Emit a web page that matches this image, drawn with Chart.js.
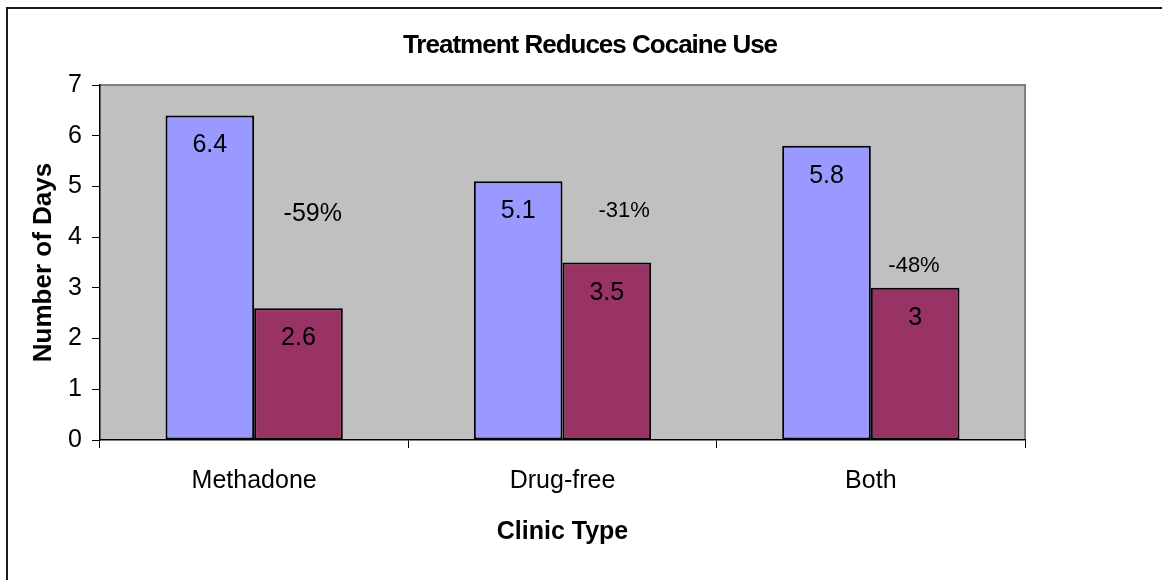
<!DOCTYPE html>
<html>
<head>
<meta charset="utf-8">
<script src="https://cdn.jsdelivr.net/npm/chart.js@4.4.1/dist/chart.umd.min.js"></script>
<style>
  html, body { margin: 0; padding: 0; background: #fff; }
  canvas { display: block; }
</style>
</head>
<body>
<canvas id="c" width="1162" height="580"></canvas>
<script>
// ---- data ----
const categories = ['Methadone', 'Drug-free', 'Both'];
const beforeValues = [6.4, 5.1, 5.8];
const afterValues = [2.6, 3.5, 3.0];
const yTicks = [0, 1, 2, 3, 4, 5, 6, 7];
const pctLabels = ['-59%', '-31%', '-48%'];
// annotation anchors in data units (category index, value)
const pctAnchorX = [0.19, 1.20, 2.14];
const pctAnchorY = [4.32, 4.40, 3.31];
const pctFontSizes = [25, 22, 22];

const FONT = '"Liberation Sans", Arial, sans-serif';

const decor = {
  id: 'decor',
  beforeDraw(chart) {
    const {ctx, chartArea: a} = chart;
    ctx.save();
    ctx.fillStyle = '#ffffff';
    ctx.fillRect(0, 0, chart.width, chart.height);
    // outer frame
    ctx.strokeStyle = '#1a1a1a';
    ctx.lineWidth = 2;
    ctx.strokeRect(7, 8, 3000, 3000);
    // plot background
    ctx.fillStyle = '#C0C0C0';
    ctx.fillRect(a.left, a.top, a.right - a.left, a.bottom - a.top);
    // top & right border of plot
    ctx.strokeStyle = '#808080';
    ctx.lineWidth = 2;
    ctx.beginPath();
    ctx.moveTo(a.left, a.top);
    ctx.lineTo(a.right, a.top);
    ctx.lineTo(a.right, a.bottom);
    ctx.stroke();
    // title
    ctx.fillStyle = '#000';
    ctx.font = 'bold 26px ' + FONT;
    ctx.textAlign = 'center';
    ctx.textBaseline = 'alphabetic';
    if ('letterSpacing' in ctx) ctx.letterSpacing = '-1px';
    ctx.fillText('Treatment Reduces Cocaine Use', 590, 53);
    if ('letterSpacing' in ctx) ctx.letterSpacing = '0px';
    ctx.restore();
  },
  afterDatasetsDraw(chart) {
    const {ctx} = chart;
    const xs = chart.scales.x, ys = chart.scales.y;
    ctx.save();
    ctx.fillStyle = '#000';
    ctx.textAlign = 'center';
    ctx.textBaseline = 'alphabetic';
    ctx.font = '25px ' + FONT;
    chart.data.datasets.forEach((ds, di) => {
      chart.getDatasetMeta(di).data.forEach((bar, i) => {
        ctx.fillText(String(ds.data[i]), bar.x, bar.y + 37);
      });
    });
    pctLabels.forEach((t, i) => {
      ctx.font = pctFontSizes[i] + 'px ' + FONT;
      ctx.fillText(t, xs.getPixelForValue(pctAnchorX[i]), ys.getPixelForValue(pctAnchorY[i]));
    });
    ctx.restore();
  }
};

new Chart(document.getElementById('c'), {
  type: 'bar',
  data: {
    labels: categories,
    datasets: [
      { label: 'Before', data: beforeValues, backgroundColor: '#9999FF', borderColor: '#000', borderWidth: 2, borderSkipped: false },
      { label: 'After', data: afterValues, backgroundColor: '#993366', borderColor: '#000', borderWidth: 2, borderSkipped: false }
    ]
  },
  options: {
    responsive: false,
    animation: false,
    events: [],
    layout: { padding: { left: 8, top: 85, right: 137, bottom: 0 } },
    plugins: { legend: { display: false }, tooltip: { enabled: false }, title: { display: false } },
    datasets: { bar: { categoryPercentage: 0.575, barPercentage: 1.0 } },
    scales: {
      x: {
        afterFit(s) { s.height = 140; },
        grid: { drawOnChartArea: false, tickLength: 8, color: '#000', tickColor: '#000', offset: true },
        border: { color: '#000', width: 1.5 },
        ticks: { color: '#000', font: { family: FONT, size: 25 }, padding: 18 },
        title: { display: true, text: 'Clinic Type', color: '#000', font: { family: FONT, size: 25, weight: 'bold' }, padding: { top: 0, bottom: 33 } }
      },
      y: {
        min: 0, max: 7,
        afterFit(s) { s.width = 92; },
        afterBuildTicks(s) { s.ticks = yTicks.map(v => ({ value: v })); },
        grid: { drawOnChartArea: false, tickLength: 8, color: '#000', tickColor: '#000' },
        border: { color: '#000', width: 1.5 },
        ticks: { color: '#000', font: { family: FONT, size: 25 }, padding: 10 },
        title: { display: true, text: 'Number of Days', color: '#000', font: { family: FONT, size: 26, weight: 'bold' }, padding: { top: 20, bottom: 20 } }
      }
    }
  },
  plugins: [decor]
});
</script>
</body>
</html>
